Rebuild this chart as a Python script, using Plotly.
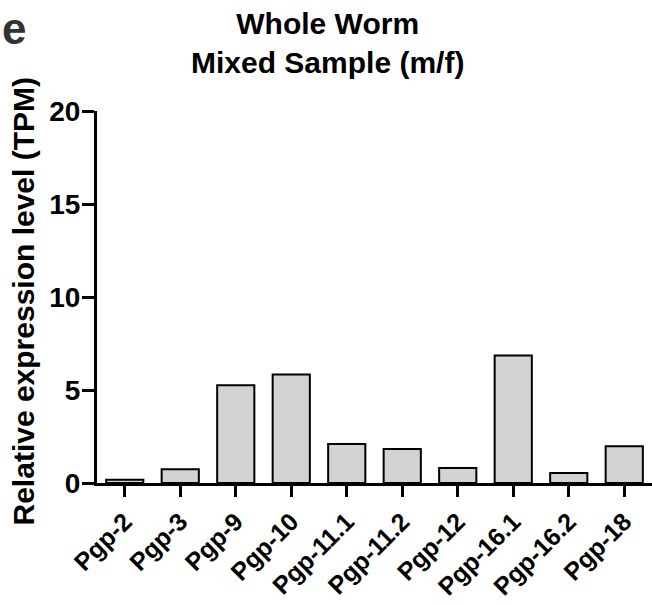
import plotly.graph_objects as go

categories = ["Pgp-2", "Pgp-3", "Pgp-9", "Pgp-10", "Pgp-11.1", "Pgp-11.2",
              "Pgp-12", "Pgp-16.1", "Pgp-16.2", "Pgp-18"]
values = [0.17, 0.74, 5.25, 5.84, 2.10, 1.83, 0.81, 6.86, 0.54, 1.98]
y_ticks = [0, 5, 10, 15, 20]

FONT = "Liberation Sans, Arial, sans-serif"

fig = go.Figure()
fig.add_trace(go.Bar(
    x=categories, y=values, width=0.67,
    marker=dict(color="#d3d3d3", line=dict(color="black", width=2)),
))

fig.update_layout(
    width=652, height=605,
    margin=dict(l=97, r=0, t=111, b=122),
    paper_bgcolor="white", plot_bgcolor="white",
    showlegend=False,
    font=dict(family=FONT, color="black"),
    xaxis=dict(
        range=[-0.5, 9.5], showline=True, linewidth=3, linecolor="black",
        ticks="outside", ticklen=11, tickwidth=3, tickcolor="black",
        tickangle=-45, showgrid=False, zeroline=False, automargin=False,
        tickvals=categories, ticktext=[f"<b>{c}</b>" for c in categories],
        tickfont=dict(size=25, family=FONT, color="black"),
    ),
    yaxis=dict(
        range=[0, 20], tickvals=y_ticks, ticktext=[f"<b>{v}</b>" for v in y_ticks],
        showline=True, linewidth=3, linecolor="black",
        ticks="outside", ticklen=12, tickwidth=3, tickcolor="black",
        showgrid=False, zeroline=False, automargin=False,
        ticklabelstandoff=-4,
        tickfont=dict(size=28, family=FONT, color="black"),
    ),
    annotations=[
        dict(text="<b>Whole Worm<br>Mixed Sample (m/f)</b>",
             xref="paper", yref="paper", x=0.416, y=1.284,
             xanchor="center", yanchor="top", showarrow=False,
             font=dict(size=30, family=FONT, color="black")),
        dict(text="<b>Relative expression level (TPM)</b>", textangle=-90,
             xref="paper", yref="paper", x=-0.1333, y=0.488,
             xanchor="center", yanchor="middle", showarrow=False,
             font=dict(size=30, family=FONT, color="black")),
        dict(text="<b>e</b>", xref="paper", yref="paper",
             x=-0.1495, y=1.223, xanchor="center", yanchor="middle",
             showarrow=False, font=dict(size=44, family=FONT, color="#333333")),
    ],
)

fig.write_html("out.html")
